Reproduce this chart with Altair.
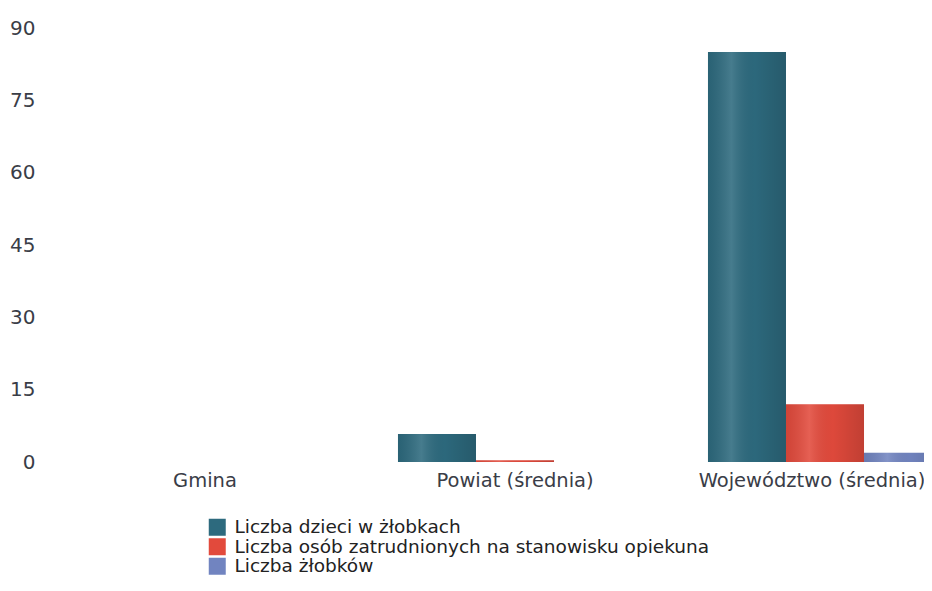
import altair as alt
import pandas as pd

categories = ["Gmina", "Powiat (średnia)", "Województwo (średnia)"]
series = [
    "Liczba dzieci w żłobkach",
    "Liczba osób zatrudnionych na stanowisku opiekuna",
    "Liczba żłobków",
]
dzieci = [0, 5.8, 85.0]
opiekunowie = [0, 0.35, 12.0]
zlobki = [0, 0, 1.9]
colors = ["#2d6a7e", "#e24a3c", "#7184c0"]
y_ticks = [0, 15, 30, 45, 60, 75, 90]

rows = []
for s, vals in zip(series, [dzieci, opiekunowie, zlobki]):
    for c, v in zip(categories, vals):
        rows.append({"kategoria": c, "seria": s, "wartosc": v})
df = pd.DataFrame(rows)

FONT = "DejaVu Sans"
TXT = "#3a3d47"

x_enc = alt.X(
    "kategoria:N",
    sort=categories,
    title=None,
    scale=alt.Scale(range=[0, 930], paddingInner=0.245, paddingOuter=0.1225),
    axis=alt.Axis(
        labelAngle=0,
        labelFontSize=19.5,
        labelFont=FONT,
        labelColor=TXT,
        labelPadding=9,
        labelLimit=0,
        ticks=False,
        tickSize=0,
        domain=False,
        grid=False,
        labelOffset={
            "condition": {"test": "datum.value === 'Województwo (średnia)'", "value": -13},
            "value": 0,
        },
    ),
)
xo_enc = alt.XOffset("seria:N", sort=series, scale=alt.Scale(paddingInner=0, paddingOuter=0))
y_enc = alt.Y(
    "wartosc:Q",
    scale=alt.Scale(domain=[0, 90]),
    axis=alt.Axis(
        values=y_ticks,
        title=None,
        labelFontSize=20,
        labelFont=FONT,
        labelColor=TXT,
        labelPadding=15,
        ticks=False,
        tickSize=0,
        domain=False,
        grid=False,
    ),
)

base = alt.Chart(df).encode(x=x_enc, xOffset=xo_enc, y=y_enc)

bars = base.mark_bar().encode(
    color=alt.Color(
        "seria:N",
        sort=series,
        scale=alt.Scale(domain=series, range=colors),
        legend=alt.Legend(
            orient="none",
            legendX=158,
            legendY=490,
            title=None,
            direction="vertical",
            symbolType="square",
            symbolSize=289,
            symbolStrokeWidth=0,
            symbolOpacity=1,
            labelFontSize=18.5,
            labelFont=FONT,
            labelColor="#222222",
            labelOffset=8,
            labelLimit=0,
            rowPadding=0.5,
            padding=0,
        ),
    )
)

shade = base.mark_bar(
    fill=alt.Gradient(
        gradient="linear",
        stops=[
            alt.GradientStop(color="rgba(0,0,0,0.08)", offset=0),
            alt.GradientStop(color="rgba(255,255,255,0.12)", offset=0.3),
            alt.GradientStop(color="rgba(0,0,0,0.02)", offset=0.6),
            alt.GradientStop(color="rgba(0,0,0,0.15)", offset=1),
        ],
        x1=0,
        x2=1,
        y1=0,
        y2=0,
    )
)

chart = (
    alt.layer(bars, shade)
    .properties(
        width=874,
        height=434,
        autosize=alt.AutoSizeParams(type="none"),
        padding={"left": 42, "top": 20, "right": 0, "bottom": 120},
        background="white",
    )
    .configure(font=FONT)
    .configure_view(strokeWidth=0)
)

chart.save("out.html", embed_options={"renderer": "svg", "actions": False})
